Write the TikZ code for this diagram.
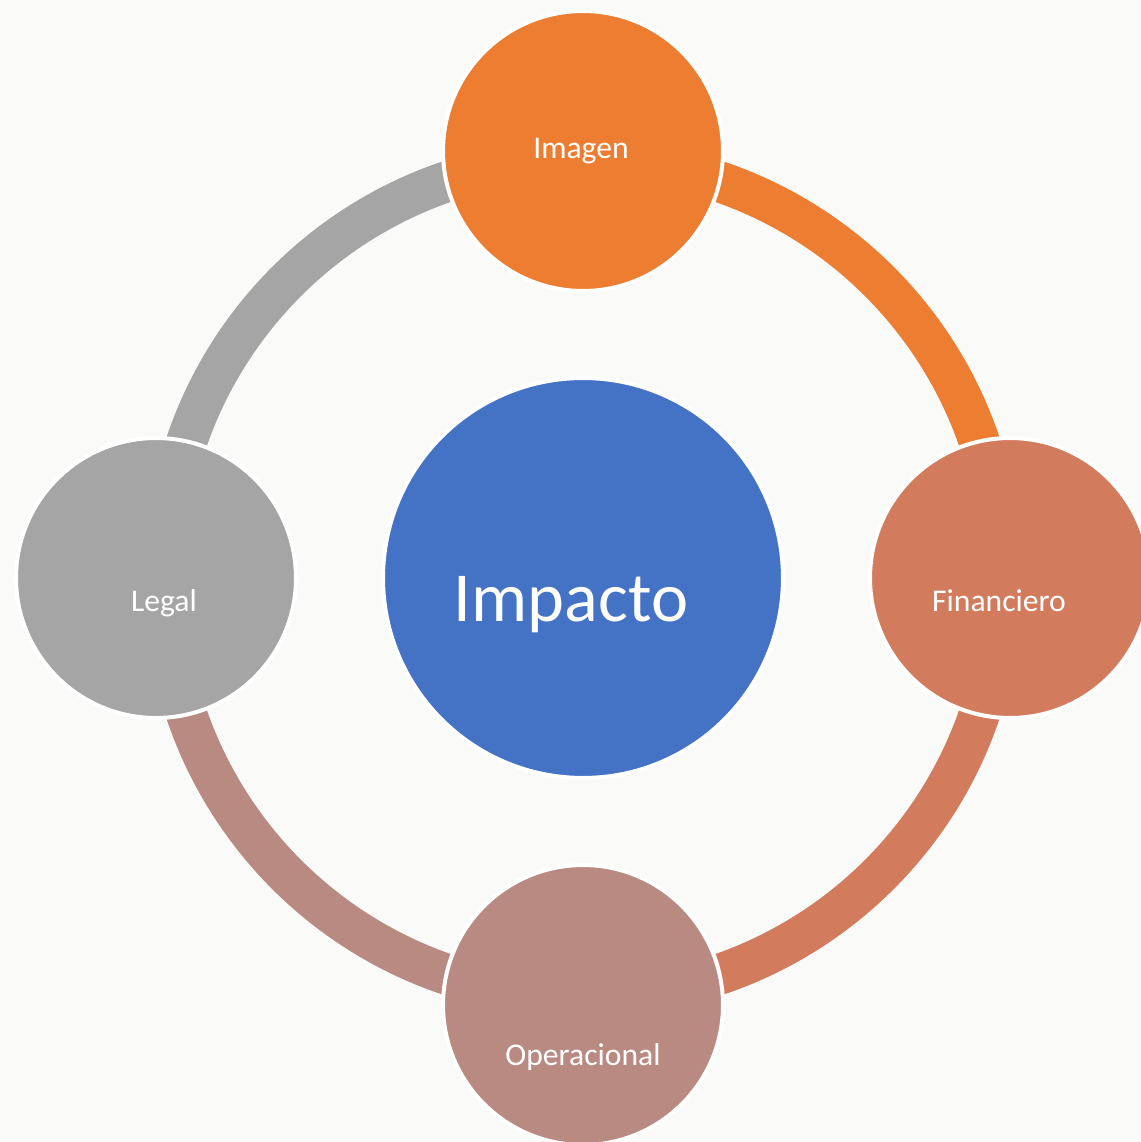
\documentclass[tikz,border=0pt]{standalone}
\usepackage{fontspec}
\setmainfont{Carlito}
\usepackage{tikz}
\usetikzlibrary{positioning,backgrounds,calc}
\definecolor{paper}{RGB}{250,250,249}
\definecolor{impblue}{RGB}{68,114,196}
\definecolor{imgorange}{RGB}{237,125,49}
\definecolor{finsalmon}{RGB}{210,123,93}
\definecolor{opmauve}{RGB}{185,138,130}
\definecolor{leggray}{RGB}{165,165,165}
\tikzset{
  ball/.style={circle,draw=white,line width=0.08cm,inner sep=0pt,minimum size=5.6cm},
  bigball/.style={ball,minimum size=8cm},
  ring/.style={line width=0.82cm,bend left=45},
  lbl/.style={anchor=base,text=white,font=\fontsize{18}{20}\selectfont},
  biglbl/.style={lbl,font=\fontsize{40}{44}\selectfont}
}
\begin{document}
\begin{tikzpicture}[x=0.02cm,y=0.02cm]
%the page
    \useasboundingbox (-583,-564) rectangle (557,578);

%the circles
    \node[bigball,fill=impblue] (Impacto) at (0,0) {};
    \node[ball,fill=imgorange] (Imagen) at (0,427) {};
    \node[ball,fill=finsalmon] (Financiero) at (427,0) {};
    \node[ball,fill=opmauve] (Operacional) at (0,-427) {};
    \node[ball,fill=leggray] (Legal) at (-427,0) {};

%points of the ring
    \foreach \n in {Imagen,Financiero,Operacional,Legal}
       \coordinate (r\n) at ($(Impacto.center)!0.981!(\n.center)$);

%the ring between them
  \begin{pgfonlayer}{background}
    \fill[paper] (-583,-564) rectangle (557,578);
    \draw[ring,imgorange] (rImagen) to (rFinanciero);
    \draw[ring,finsalmon] (rFinanciero) to (rOperacional);
    \draw[ring,opmauve] (rOperacional) to (rLegal);
    \draw[ring,leggray] (rLegal) to (rImagen);
  \end{pgfonlayer}

%the labels
    \node[biglbl] (tImpacto) at (-12,-44) {Impacto};
    \node[lbl] (tImagen) at (-2,419) {Imagen};
    \node[lbl] (tFinanciero) at (416,-34) {Financiero};
    \node[lbl] (tOperacional) at (0,-487) {Operacional};
    \node[lbl] (tLegal) at (-419,-34) {Legal};
\end{tikzpicture}
\end{document}
